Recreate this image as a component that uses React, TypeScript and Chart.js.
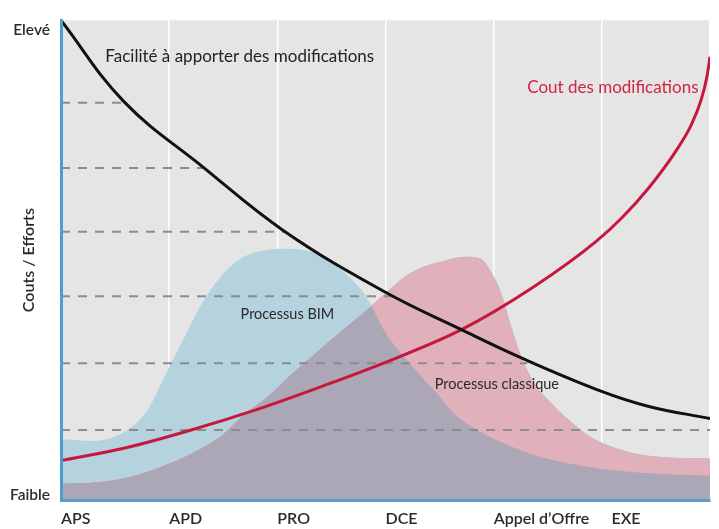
import React, { useEffect, useRef } from 'react';
import { Chart, registerables } from 'chart.js';

Chart.register(...registerables);

// Phases (x axis) — one unit per phase
const phaseLabels = ['APS', 'APD', 'PRO', 'DCE', 'Appel d’Offre', 'EXE'];
const phaseLabelPositions = [0, 1, 2, 3, 4, 5.09];
const phaseGridPositions = [0, 1, 2, 3, 4, 5, 6];

// Y axis
const yTickValues = [1, 98];
const yTickLabels = ['Faible', 'Elevé'];
const yTitle = 'Couts / Efforts';

// Facilité à apporter des modifications (black curve)
const easeX = [0, 0.584, 1.313, 2.061, 3.0, 3.702, 4.277, 4.979, 5.435, 6.0];
const easeY = [100, 83.0, 69.4, 56.1, 43.3, 35.5, 29.4, 22.8, 19.5, 17.0];

// Cout des modifications (red curve)
const costX = [0, 0.602, 1.204, 1.815, 2.426, 3.0, 3.702, 4.368, 4.942, 5.188, 5.435, 5.672, 5.827, 5.918, 5.972, 6.0];
const costY = [8.2, 10.9, 14.6, 18.9, 23.8, 28.7, 35.5, 44.4, 53.8, 58.9, 65.1, 72.3, 78.2, 83.4, 88.3, 92.4];

// Processus BIM (blue area)
const bimX = [0, 0.29, 0.6, 0.81, 0.99, 1.15, 1.29, 1.45, 1.63, 1.81, 2.06, 2.27, 2.48, 2.66, 2.82, 3.0, 3.27, 3.46, 3.64, 3.91, 4.19, 4.46, 4.91, 5.37, 6.0];
const bimY = [12.7, 12.3, 14.4, 19.1, 27.3, 34.3, 40.5, 45.8, 49.9, 51.7, 52.4, 52.0, 49.9, 46.6, 42.5, 34.9, 27.3, 22.6, 17.9, 13.8, 10.9, 8.8, 6.8, 5.7, 5.1];

// Processus classique (pink area)
const classicX = [0, 0.29, 0.6, 0.9, 1.2, 1.45, 1.69, 1.93, 2.12, 2.36, 2.57, 2.79, 3.0, 3.18, 3.36, 3.55, 3.73, 3.88, 3.97, 4.07, 4.16, 4.25, 4.37, 4.52, 4.71, 4.91, 5.12, 5.43, 6.0];
const classicY = [3.5, 3.7, 4.7, 6.8, 9.7, 12.9, 17.9, 22.0, 26.1, 30.8, 34.9, 39.0, 43.1, 46.6, 48.7, 49.9, 50.7, 50.3, 47.8, 43.1, 36.3, 30.2, 24.6, 20.5, 16.4, 12.9, 10.9, 9.2, 8.6];

// Dashed guide levels and where they stop (meeting the black curve)
const guideLevels = [82.8, 69.2, 55.9, 42.5, 28.5, 14.6];
const guideEnds = [0.584, 1.313, 2.07, 3.06, 4.31, 6];

// Curve labels
const curveLabels = [
  { text: 'Facilité à apporter des modifications', x: 0.41, y: 92.4, color: '#222222', size: 17 },
  { text: 'Cout des modifications', x: 4.31, y: 86.0, color: '#d2233f', size: 17 },
  { text: 'Processus BIM', x: 1.66, y: 38.8, color: '#2a2a2a', size: 14.5 },
  { text: 'Processus classique', x: 3.455, y: 24.2, color: '#2a2a2a', size: 14.5 },
];

const FONT = 'Lato, "Open Sans", sans-serif';
const COL_BLUE = '#b5d3df';
const COL_PINK = '#e0b1bb';
const COL_OVERLAP = '#aca7b6';

const toPts = (xs: number[], ys: number[]) => xs.map((x, i) => ({ x, y: ys[i] }));

const bgPlugin = {
  id: 'plotBg',
  beforeDraw(chart: any) {
    const { ctx, chartArea: a } = chart;
    ctx.save();
    ctx.fillStyle = '#e5e5e5';
    ctx.fillRect(a.left, a.top, a.right - a.left, a.bottom - a.top);
    ctx.restore();
  },
};

const labelPlugin = {
  id: 'curveLabels',
  afterDatasetsDraw(chart: any) {
    const { ctx, scales } = chart;
    const xs = scales.x;
    const ys = scales.y;
    ctx.save();
    ctx.textAlign = 'left';
    ctx.textBaseline = 'middle';
    for (const l of curveLabels) {
      ctx.font = `${l.size}px ${FONT}`;
      ctx.fillStyle = l.color;
      ctx.fillText(l.text, xs.getPixelForValue(l.x), ys.getPixelForValue(l.y));
    }
    ctx.restore();
  },
};

export default function App() {
  const ref = useRef<HTMLCanvasElement | null>(null);

  useEffect(() => {
    if (!ref.current) return;
    const areaBase = { pointRadius: 0, pointHoverRadius: 0, cubicInterpolationMode: 'monotone' as const };
    const curveBase = { pointRadius: 0, pointHoverRadius: 0, fill: false, tension: 0.4 };
    const chart = new Chart(ref.current, {
      type: 'line',
      data: {
        datasets: [
          { ...curveBase, label: 'Facilité', data: toPts(easeX, easeY), borderColor: '#111111', borderWidth: 3 },
          { ...curveBase, cubicInterpolationMode: 'monotone' as const, label: 'Cout', data: toPts(costX, costY), borderColor: '#c8173d', borderWidth: 3 },
          ...guideLevels.map((v, i) => ({
            label: 'guide' + i,
            data: [{ x: 0, y: v }, { x: guideEnds[i], y: v }],
            borderColor: '#8c8c8c',
            borderWidth: 2,
            borderDash: [9, 8],
            pointRadius: 0,
            fill: false,
          })),
          {
            ...areaBase,
            label: 'Processus BIM',
            data: toPts(bimX, bimY),
            borderWidth: 0,
            borderColor: 'transparent',
            backgroundColor: COL_BLUE,
            fill: { target: 9, above: COL_BLUE, below: COL_PINK },
          },
          {
            ...areaBase,
            label: 'Processus classique',
            data: toPts(classicX, classicY),
            borderWidth: 0,
            borderColor: 'transparent',
            backgroundColor: COL_OVERLAP,
            fill: { target: 'origin', above: COL_OVERLAP, below: COL_OVERLAP },
          },
        ],
      },
      options: {
        responsive: false,
        animation: false,
        layout: { padding: { top: 13, left: 0, right: 0, bottom: 0 } },
        plugins: { legend: { display: false }, tooltip: { enabled: false } },
        scales: {
          x: {
            type: 'linear',
            min: 0,
            max: 6,
            afterBuildTicks: (s: any) => {
              const vals = Array.from(new Set([...phaseGridPositions, ...phaseLabelPositions])).sort((a, b) => a - b);
              s.ticks = vals.map((v) => ({ value: v }));
            },
            afterFit: (s: any) => { s.height = 29; },
            grid: {
              drawTicks: false,
              lineWidth: 1.5,
              color: (c: any) => (phaseGridPositions.includes(c.tick?.value) ? 'rgba(255,255,255,0.95)' : 'transparent'),
            },
            border: { color: '#5b9fc6', width: 3, z: 1 },
            ticks: {
              align: 'start',
              padding: 9,
              autoSkip: false,
              maxRotation: 0,
              color: '#2a2a2a',
              font: { family: FONT, size: 16, weight: '600' },
              callback: (v: any) => {
                const i = phaseLabelPositions.indexOf(Number(v));
                return i >= 0 ? phaseLabels[i] : '';
              },
            },
          },
          y: {
            type: 'linear',
            min: 0,
            max: 100,
            afterBuildTicks: (s: any) => { s.ticks = yTickValues.map((v) => ({ value: v })); },
            afterFit: (s: any) => { s.width = 61; },
            grid: { display: false, drawTicks: false },
            border: { color: '#4a9fd0', width: 3, z: 1 },
            ticks: {
              padding: 11,
              color: '#2a2a2a',
              font: { family: FONT, size: 15.5, weight: '600' },
              callback: (v: any) => {
                const i = yTickValues.indexOf(Number(v));
                return i >= 0 ? yTickLabels[i] : '';
              },
            },
            title: {
              display: true,
              text: yTitle,
              color: '#2a2a2a',
              font: { family: FONT, size: 16, weight: '600' },
              padding: { top: 19, bottom: 0 },
            },
          },
        },
      },
      plugins: [bgPlugin, labelPlugin],
    });
    return () => chart.destroy();
  }, []);

  return (
    <div style={{ position: 'absolute', left: 0, top: 0, width: 719, height: 529, background: '#ffffff' }}>
      <canvas ref={ref} width={719} height={529} style={{ display: 'block' }} />
    </div>
  );
}
